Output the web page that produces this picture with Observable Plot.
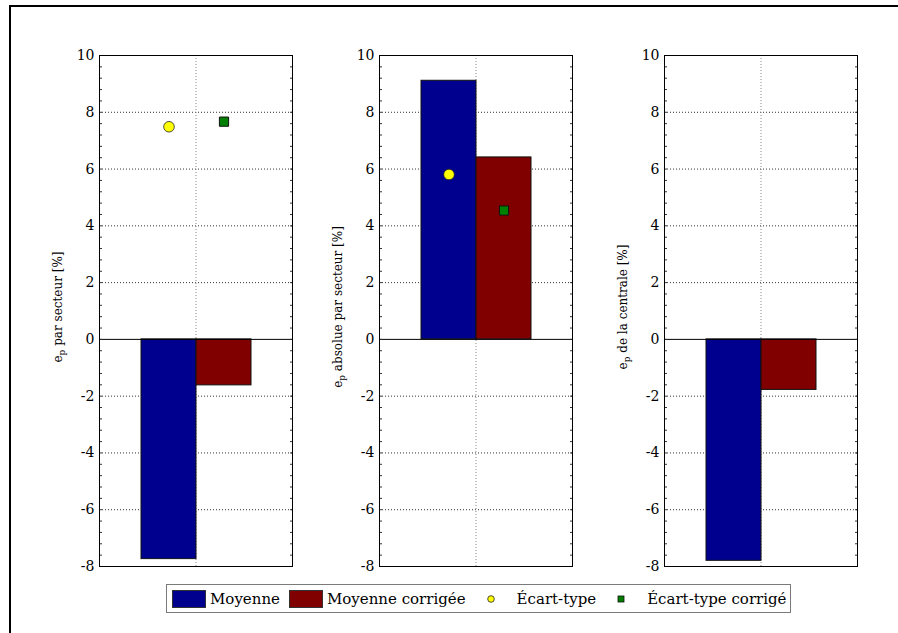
<!DOCTYPE html>
<html><head><meta charset="utf-8">
<script src="https://cdn.jsdelivr.net/npm/d3@7"></script>
<script src="https://cdn.jsdelivr.net/npm/@observablehq/plot@0.6"></script>
<style>
body{margin:0;background:#fff;}
#fig{position:relative;width:898px;height:633px;overflow:hidden;font-family:"DejaVu Serif",serif;background:#fff;}
.panel{position:absolute;top:40px;}
svg.panel, svg.panel text{font-family:"DejaVu Serif",serif !important;}
#border{position:absolute;left:9px;top:5px;width:1000px;height:1000px;border-left:2px solid #000;border-top:2px solid #000;box-sizing:border-box;}
#legend{position:absolute;left:166px;top:584px;width:625px;height:29px;border:1px solid #7a7a7a;box-sizing:border-box;display:flex;align-items:center;font-size:15px;color:#000;white-space:nowrap;}
#legend .sw{display:block;flex:none;}
</style></head>
<body><div id="fig"><div id="border"></div></div>
<script>
// ---- data ----
const yLabels = ["par secteur [%]", "absolue par secteur [%]", "de la centrale [%]"];
const seriesNames = ["Moyenne", "Moyenne corrigée"];
const moyenne = [-7.74, 9.11, -7.80];
const moyenneCorrigee = [-1.62, 6.41, -1.78];
const ecartType = [7.49, 5.81, null];
const ecartTypeCorrige = [7.67, 4.54, null];
const legendLabels = ["Moyenne", "Moyenne corrigée", "Écart-type", "Écart-type corrigé"];
const yTicks = [-8, -6, -4, -2, 0, 2, 4, 6, 8, 10];
const gridTicks = [-6, -4, -2, 2, 4, 6, 8];
const minorTicks = d3.range(-8, 10.001, 0.4).map(v => Math.round(v * 10) / 10);

// ---- styles ----
const barColors = ["#00008F", "#800000"];
const dotColor = "#FFFF00";
const squareColor = "#008000";
const panelLefts = [99, 379, 664];
const PW = 193, PH = 511, ML = 62, MR = 10, MT = 15, MB = 15;

const fig = document.getElementById("fig");

panelLefts.forEach((left, i) => {
  const bars = [
    {series: seriesNames[0], value: moyenne[i]},
    {series: seriesNames[1], value: moyenneCorrigee[i]}
  ];
  const sA = ecartType[i] == null ? [] : [{series: seriesNames[0], value: ecartType[i]}];
  const sB = ecartTypeCorrige[i] == null ? [] : [{series: seriesNames[1], value: ecartTypeCorrige[i]}];
  const chart = Plot.plot({
    width: ML + PW + MR, height: MT + PH + MB,
    marginLeft: ML, marginRight: MR, marginTop: MT, marginBottom: MB,
    style: {fontFamily: "DejaVu Serif", fontSize: "14px", background: "transparent", color: "#000"},
    x: {type: "band", domain: seriesNames, paddingInner: 0, paddingOuter: 0.75, axis: null},
    y: {domain: [-8, 10], axis: null},
    color: {domain: seriesNames, range: barColors},
    marks: [
      Plot.gridY(gridTicks, {stroke: "#333", strokeOpacity: 1, strokeDasharray: "1,2"}),
      Plot.ruleX([0], {x: null, stroke: "#888", strokeDasharray: "1,2"}),
      Plot.barY(bars, {x: "series", y: "value", fill: "series", stroke: "#111", strokeWidth: 1}),
      Plot.ruleY([0], {stroke: "#000"}),
      Plot.dot(sA, {x: "series", y: "value", r: 5.3, fill: dotColor, stroke: "#222", strokeWidth: 0.8}),
      Plot.dot(sB, {x: "series", y: "value", symbol: "square", r: 5.2, fill: squareColor, stroke: "#111", strokeWidth: 1}),
      Plot.axisY(minorTicks, {anchor: "left", tickSize: -3, tickFormat: () => "", label: null, stroke: "#333"}),
      Plot.axisY(minorTicks, {anchor: "right", tickSize: -3, tickFormat: () => "", label: null, stroke: "#333"}),
      Plot.axisY(yTicks, {anchor: "left", tickSize: 0, tickPadding: 5, label: null, tickFormat: d => String(d), fontSize: 14}),
      Plot.frame({stroke: "#000"}),
      Plot.text([yLabels[i]], {frameAnchor: "left", textAnchor: "middle", lineAnchor: "middle", text: d => "§" + d, rotate: -90, dx: -41, dy: -4, fontSize: 12})
    ]
  });
  d3.select(chart).selectAll("text").filter(function () { return this.textContent.startsWith("§"); })
    .each(function () {
      const rest = this.textContent.slice(1);
      const t = d3.select(this);
      t.text(null);
      t.append("tspan").text("e");
      t.append("tspan").attr("dy", 3).attr("font-size", 9).text("p");
      t.append("tspan").attr("dy", -3).text(" " + rest);
    });
  chart.classList.add("panel");
  chart.style.left = (left - ML) + "px";
  fig.appendChild(chart);
});

// ---- legend ----
const legend = document.createElement("div");
legend.id = "legend";
function swatchRect(color, ml) {
  const s = d3.create("svg").attr("class", "sw").attr("width", 34).attr("height", 18)
    .style("margin-left", ml + "px").style("margin-right", "4px");
  s.append("rect").attr("x", 0.5).attr("y", 0.5).attr("width", 33).attr("height", 17).attr("fill", color).attr("stroke", "#333");
  return s.node();
}
function swatchMarker(kind) {
  const s = d3.create("svg").attr("class", "sw").attr("width", 51).attr("height", 18);
  if (kind === "dot") s.append("circle").attr("cx", 25).attr("cy", 9).attr("r", 3.3).attr("fill", dotColor).attr("stroke", "#222").attr("stroke-width", 0.8);
  else s.append("rect").attr("x", 22).attr("y", 6).attr("width", 6).attr("height", 6).attr("fill", squareColor).attr("stroke", "#111").attr("stroke-width", 0.8);
  return s.node();
}
function label(t) { const sp = document.createElement("span"); sp.textContent = t; return sp; }
legend.appendChild(swatchRect(barColors[0], 5));
legend.appendChild(label(legendLabels[0]));
legend.appendChild(swatchRect(barColors[1], 9));
legend.appendChild(label(legendLabels[1]));
legend.appendChild(swatchMarker("dot"));
legend.appendChild(label(legendLabels[2]));
legend.appendChild(swatchMarker("square"));
legend.appendChild(label(legendLabels[3]));
fig.appendChild(legend);
</script>
</body></html>
